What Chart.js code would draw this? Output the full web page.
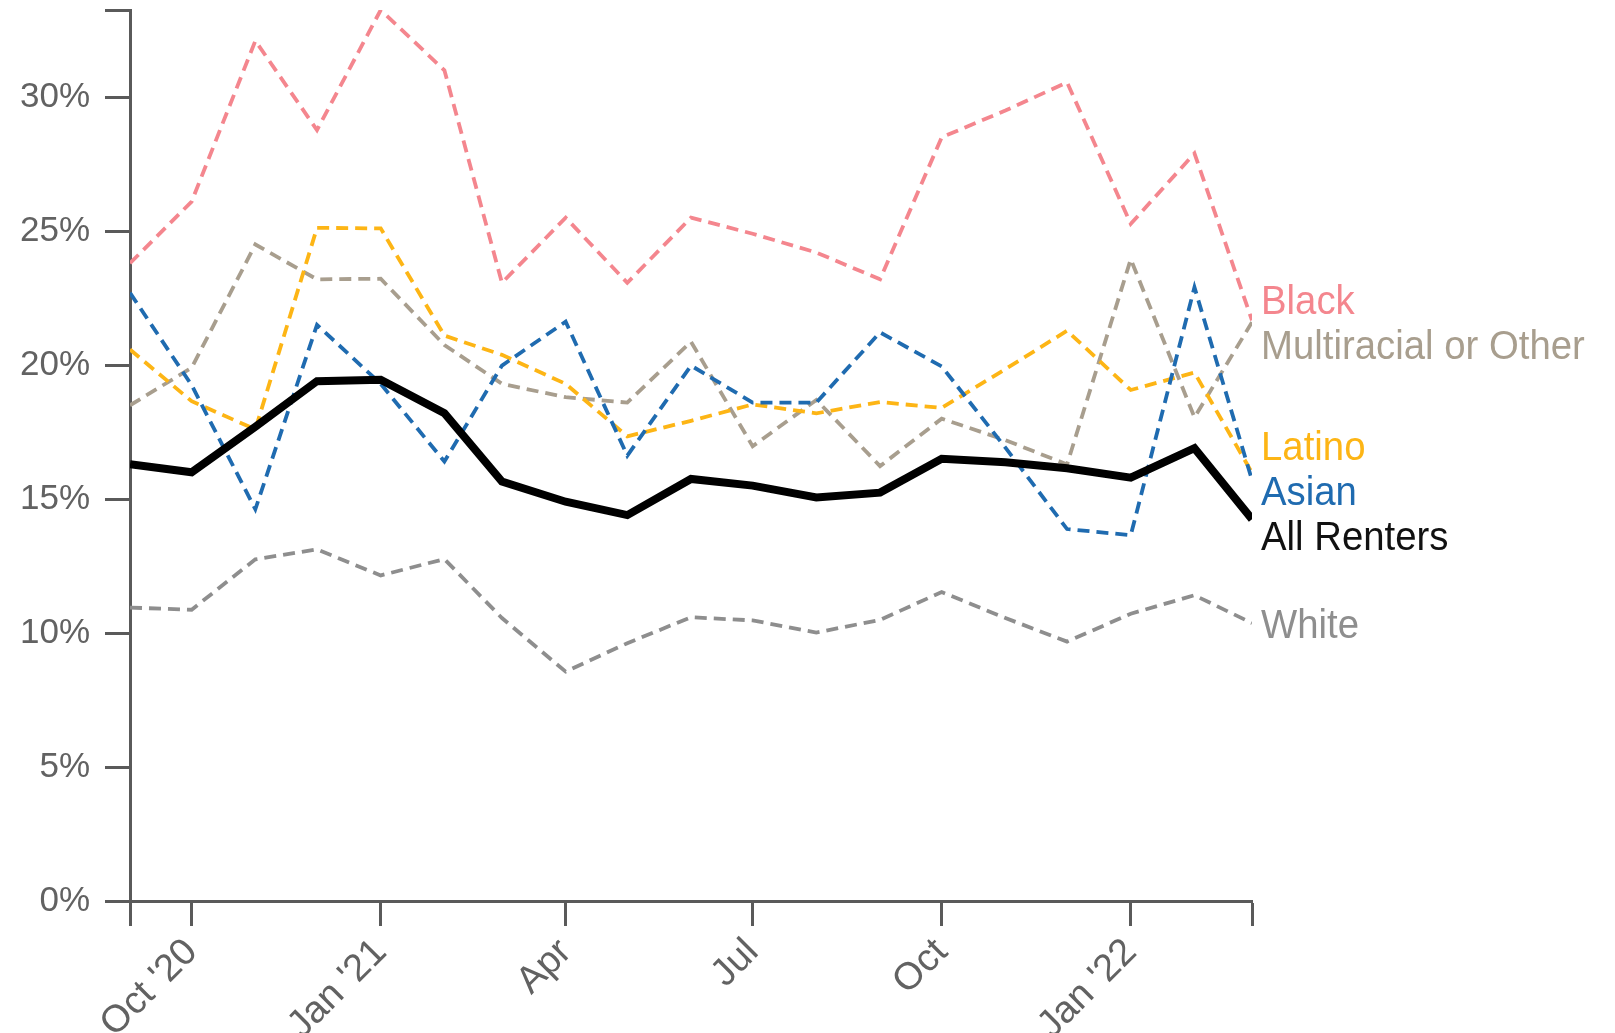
<!DOCTYPE html>
<html>
<head>
<meta charset="utf-8">
<script src="https://cdn.jsdelivr.net/npm/chart.js@4/dist/chart.umd.min.js"></script>
<style>
  html, body { margin: 0; padding: 0; background: #ffffff; }
  #wrap { width: 1615px; height: 1033px; position: relative; }
</style>
</head>
<body>
<div id="wrap"><canvas id="c"></canvas></div>
<script>
// ---- Data (monthly observations, share of renters) ----
const months = ['2020-09','2020-10','2020-11','2020-12','2021-01','2021-02','2021-03','2021-04','2021-05','2021-06',
                '2021-07','2021-08','2021-09','2021-10','2021-11','2021-12','2022-01','2022-02','2022-03'];

const allRenters  = [16.3, 16.0, 17.7, 19.4, 19.45, 18.2, 15.65, 14.9, 14.4, 15.75, 15.5, 15.06, 15.24, 16.5, 16.37, 16.15, 15.8, 16.9, 14.25];
const black       = [23.8, 26.1, 32.1, 28.77, 33.25, 31.0, 23.07, 25.5, 23.07, 25.5, 24.9, 24.2, 23.2, 28.5, 29.5, 30.55, 25.27, 27.9, 21.67];
const multiracial = [18.5, 19.9, 24.5, 23.2, 23.22, 20.75, 19.3, 18.8, 18.6, 20.87, 16.97, 18.7, 16.23, 18.0, 17.2, 16.29, 23.95, 18.05, 21.6];
const latino      = [20.58, 18.65, 17.6, 25.12, 25.1, 21.1, 20.38, 19.3, 17.34, 17.92, 18.53, 18.2, 18.62, 18.4, 19.85, 21.28, 19.07, 19.72, 15.98];
const asian       = [22.7, 19.25, 14.62, 21.5, 19.3, 16.4, 19.98, 21.62, 16.62, 19.98, 18.6, 18.6, 21.22, 19.95, 16.92, 13.88, 13.65, 22.9, 15.71];
const white       = [10.95, 10.87, 12.75, 13.12, 12.15, 12.76, 10.56, 8.56, 9.62, 10.59, 10.47, 10.02, 10.49, 11.53, 10.56, 9.68, 10.72, 11.41, 10.37];

const seriesNames = ['White', 'Black', 'Multiracial or Other', 'Latino', 'Asian', 'All Renters'];

const xTickDates  = ['2020-09','2020-10','2021-01','2021-04','2021-07','2021-10','2022-01','2022-03'];
const xTickLabels = ['', "Oct '20", "Jan '21", 'Apr', 'Jul', 'Oct', "Jan '22", ''];
const yTickValues = [0, 5, 10, 15, 20, 25, 30, 33.25];
const yTickLabels = ['0%', '5%', '10%', '15%', '20%', '25%', '30%', ''];

// ---- helpers ----
function dayOffset(ym) {
  const [y, m] = ym.split('-').map(Number);
  const [y0, m0] = months[0].split('-').map(Number);
  return (Date.UTC(y, m - 1, 1) - Date.UTC(y0, m0 - 1, 1)) / 86400000;
}
function pts(values) { return values.map((v, i) => ({ x: dayOffset(months[i]), y: v })); }

const AXIS = '#5a5a5a';
const TICKTXT = '#626262';
const colors = {
  'White': '#8e8e8e',
  'Black': '#f4868e',
  'Multiracial or Other': '#a89e8e',
  'Latino': '#fdb515',
  'Asian': '#1f6bb0',
  'All Renters': '#000000'
};
const labelColors = {
  'White': '#8e8e8e',
  'Black': '#f4868e',
  'Multiracial or Other': '#a89e8e',
  'Latino': '#fdb515',
  'Asian': '#1f6bb0',
  'All Renters': '#111111'
};
const seriesValues = [white, black, multiracial, latino, asian, allRenters];

const datasets = seriesNames.map((name, i) => {
  const solid = name === 'All Renters';
  return {
    label: name,
    data: pts(seriesValues[i]),
    borderColor: colors[name],
    backgroundColor: colors[name],
    borderWidth: solid ? 8 : 3.8,
    borderDash: solid ? [] : [12, 7],
    borderJoinStyle: 'miter',
    borderCapStyle: 'butt',
    pointRadius: 0,
    tension: 0,
    fill: false,
    order: seriesNames.length - i
  };
});

// right-hand series labels, spread apart to avoid overlap
const endLabels = {
  id: 'endLabels',
  afterDatasetsDraw(chart) {
    const ctx = chart.ctx;
    const items = chart.data.datasets.map((ds, i) => {
      const meta = chart.getDatasetMeta(i);
      const p = meta.data[meta.data.length - 1];
      return { name: ds.label, x: p.x, y: p.y };
    }).sort((a, b) => a.y - b.y);
    const gap = 45;
    let groups = items.map(it => ({ members: [it], center: it.y }));
    let changed = true;
    while (changed) {
      changed = false;
      for (let i = 0; i < groups.length - 1; i++) {
        const a = groups[i], b = groups[i + 1];
        const aBottom = a.center + (a.members.length - 1) * gap / 2;
        const bTop = b.center - (b.members.length - 1) * gap / 2;
        if (bTop - aBottom < gap) {
          const members = a.members.concat(b.members);
          const mean = members.reduce((s, m) => s + m.y, 0) / members.length;
          groups.splice(i, 2, { members, center: mean });
          changed = true;
          break;
        }
      }
    }
    const fs = 41;
    ctx.save();
    ctx.font = fs + 'px "Liberation Sans", Arial, sans-serif';
    ctx.textAlign = 'left';
    ctx.textBaseline = 'alphabetic';
    groups.forEach(g => {
      g.members.forEach((m, k) => {
        const cy = g.center + (k - (g.members.length - 1) / 2) * gap;
        const lx = chart.chartArea.right + 9;
        ctx.save();
        ctx.translate(lx, cy + fs * 0.36);
        ctx.scale(0.935, 1);
        ctx.fillStyle = labelColors[m.name];
        ctx.fillText(m.name, 0, 0);
        ctx.restore();
      });
    });
    ctx.restore();
  }
};

new Chart(document.getElementById('c'), {
  type: 'line',
  data: { datasets },
  options: {
    responsive: true,
    maintainAspectRatio: false,
    animation: false,
    events: [],
    layout: { padding: { top: 10, right: 363, left: 0, bottom: 0 } },
    plugins: { legend: { display: false }, tooltip: { enabled: false } },
    scales: {
      x: {
        type: 'linear',
        min: dayOffset(months[0]),
        max: dayOffset(months[months.length - 1]),
        afterBuildTicks: (scale) => { scale.ticks = xTickDates.map(d => ({ value: dayOffset(d) })); },
        afterFit: (scale) => { scale.height = 132; scale.paddingLeft = 0; scale.paddingRight = 0; },
        grid: { display: true, drawOnChartArea: false, drawTicks: true, tickLength: 25, tickWidth: 3, tickColor: AXIS },
        border: { display: true, width: 3, color: AXIS },
        ticks: {
          autoSkip: false,
          maxRotation: 45,
          minRotation: 45,
          padding: 4,
          color: TICKTXT,
          font: { family: '"Liberation Sans", Arial, sans-serif', size: 38 },
          callback: (v, i) => xTickLabels[i]
        }
      },
      y: {
        type: 'linear',
        min: yTickValues[0],
        max: yTickValues[yTickValues.length - 1],
        afterBuildTicks: (scale) => { scale.ticks = yTickValues.map(v => ({ value: v })); },
        afterFit: (scale) => { scale.width = 130; scale.paddingTop = 0; scale.paddingBottom = 0; },
        grid: { display: true, drawOnChartArea: false, drawTicks: true, tickLength: 25, tickWidth: 3, tickColor: AXIS },
        border: { display: true, width: 3, color: AXIS },
        ticks: {
          padding: 15,
          color: TICKTXT,
          font: { family: '"Liberation Sans", Arial, sans-serif', size: 35 },
          callback: (v, i) => yTickLabels[i]
        }
      }
    }
  },
  plugins: [endLabels]
});
</script>
</body>
</html>
